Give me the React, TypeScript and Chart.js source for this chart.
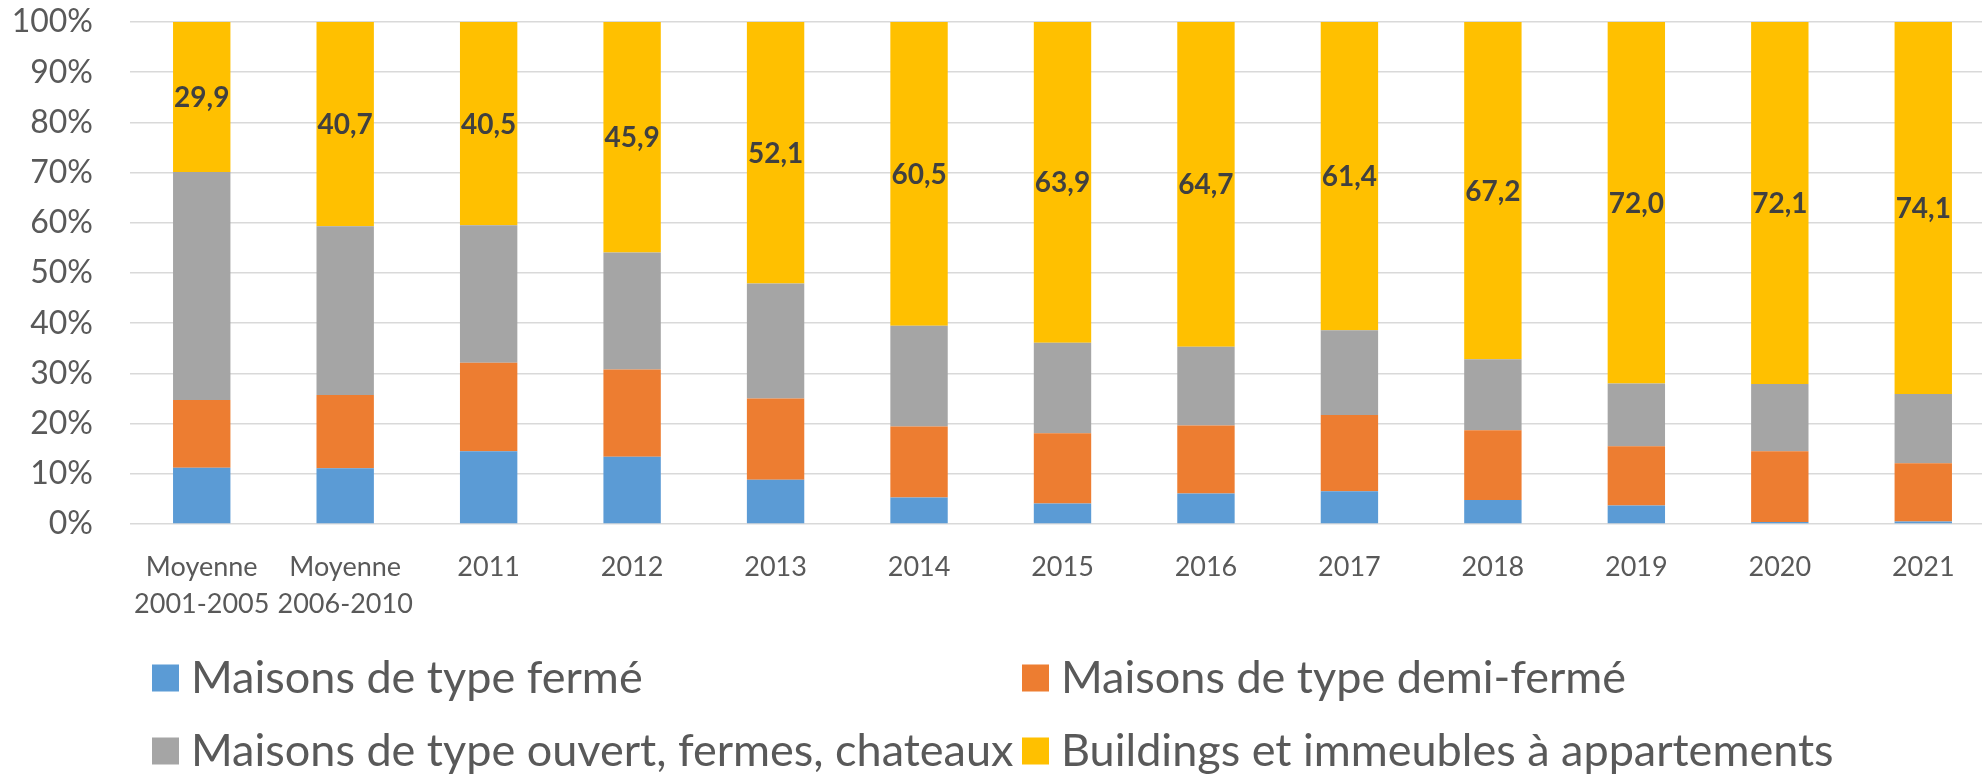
import React, { useEffect, useRef } from "react";
import { Chart, registerables } from "chart.js";

Chart.register(...registerables);

const categories: (string | string[])[] = [
  ["Moyenne", "2001-2005"],
  ["Moyenne", "2006-2010"],
  "2011", "2012", "2013", "2014", "2015", "2016", "2017", "2018", "2019", "2020", "2021",
];

const seriesNames = [
  "Maisons de type fermé",
  "Maisons de type demi-fermé",
  "Maisons de type ouvert, fermes, chateaux",
  "Buildings et immeubles à appartements",
];

const ferme = [11.2, 11.1, 14.5, 13.4, 8.8, 5.3, 4.1, 6.1, 6.5, 4.8, 3.7, 0.4, 0.5];
const demiFerme = [13.5, 14.6, 17.6, 17.4, 16.2, 14.1, 14.0, 13.5, 15.2, 13.9, 11.8, 14.1, 11.6];
const ouvert = [45.4, 33.6, 27.4, 23.3, 22.9, 20.1, 18.0, 15.7, 16.9, 14.1, 12.5, 13.4, 13.8];
const buildings = [29.9, 40.7, 40.5, 45.9, 52.1, 60.5, 63.9, 64.7, 61.4, 67.2, 72.0, 72.1, 74.1];

const colors = ["#5B9BD5", "#ED7D31", "#A5A5A5", "#FFC000"];
const yTicks = [0, 10, 20, 30, 40, 50, 60, 70, 80, 90, 100];

const FONT = "Lato, 'Open Sans', sans-serif";

const dataLabelPlugin = {
  id: "yellowLabels",
  afterDatasetsDraw(chart: any) {
    const ctx = chart.ctx;
    const meta = chart.getDatasetMeta(3);
    ctx.save();
    ctx.font = `bold 28px ${FONT}`;
    ctx.fillStyle = "#404040";
    ctx.textAlign = "center";
    ctx.textBaseline = "middle";
    meta.data.forEach((el: any, i: number) => {
      const v = buildings[i];
      const y = (el.y + el.base) / 2;
      ctx.fillText(v.toFixed(1).replace(".", ","), el.x, y + 1);
    });
    ctx.restore();
  },
};

const legendPlugin = {
  id: "gridLegend",
  afterDraw(chart: any) {
    const ctx = chart.ctx;
    ctx.save();
    ctx.font = `45px ${FONT}`;
    ctx.textAlign = "left";
    ctx.textBaseline = "alphabetic";
    const colX = [152, 1022];
    const rowCenter = [678, 751];
    chart.data.datasets.forEach((ds: any, i: number) => {
      const col = i % 2;
      const row = Math.floor(i / 2);
      const x = colX[col];
      const cy = rowCenter[row];
      ctx.fillStyle = ds.backgroundColor;
      ctx.fillRect(x, cy - 13.5, 27, 27);
      ctx.fillStyle = "#595959";
      ctx.fillText(ds.label, x + 39, cy + 15);
    });
    ctx.restore();
  },
};

export default function App() {
  const ref = useRef<HTMLCanvasElement | null>(null);

  useEffect(() => {
    if (!ref.current) return;
    Chart.defaults.font.family = FONT;
    const chart = new Chart(ref.current, {
      type: "bar",
      data: {
        labels: categories,
        datasets: [ferme, demiFerme, ouvert, buildings].map((d, i) => ({
          label: seriesNames[i],
          data: d,
          backgroundColor: colors[i],
          borderWidth: 0,
          barPercentage: 0.4,
          categoryPercentage: 1,
        })),
      },
      options: {
        animation: false,
        responsive: false,
        devicePixelRatio: 1,
        layout: { padding: { top: 22, left: 0, right: 0, bottom: 150 } },
        plugins: {
          legend: { display: false },
          tooltip: { enabled: false },
        },
        scales: {
          x: {
            stacked: true,
            grid: { display: false, drawTicks: false },
            border: { display: false },
            ticks: {
              color: "#595959",
              font: { size: 27, lineHeight: 1.37 },
              padding: 25,
              maxRotation: 0,
              autoSkip: false,
            },
            afterFit: (scale: any) => {
              scale.height = 100;
            },
          },
          y: {
            stacked: true,
            min: 0,
            max: 100,
            afterBuildTicks: (scale: any) => {
              scale.ticks = yTicks.map((v) => ({ value: v }));
            },
            grid: {
              color: "#d9d9d9",
              lineWidth: 1.5,
              drawTicks: true,
              tickLength: 37,
              tickColor: "rgba(0,0,0,0)",
            },
            border: { display: false },
            ticks: {
              color: "#595959",
              font: { size: 32 },
              padding: 0,
              callback: (v: any) => `${v}%`,
            },
            afterFit: (scale: any) => {
              scale.width = 130;
            },
          },
        },
      },
      plugins: [dataLabelPlugin, legendPlugin],
    });
    if ((document as any).fonts && (document as any).fonts.load) {
      Promise.all([
        (document as any).fonts.load(`32px Lato`),
        (document as any).fonts.load(`bold 28px Lato`),
      ]).then(() => chart.update()).catch(() => {});
    }
    return () => chart.destroy();
  }, []);

  return (
    <div
      style={{
        position: "fixed",
        left: 0,
        top: 0,
        width: 1982,
        height: 774,
        overflow: "hidden",
        background: "#ffffff",
      }}
    >
      <canvas ref={ref} width={1995} height={774} style={{ display: "block", width: 1995, height: 774 }} />
    </div>
  );
}
